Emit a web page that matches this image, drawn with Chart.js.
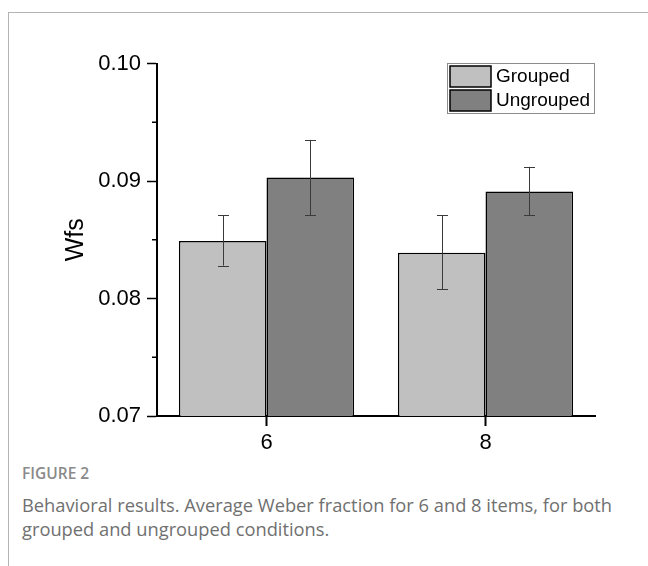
<!DOCTYPE html>
<html>
<head>
<meta charset="utf-8">
<script src="https://cdn.jsdelivr.net/npm/chart.js@4.4.1/dist/chart.umd.min.js"></script>
<style>
  html, body { margin: 0; padding: 0; background: #fff; }
  body { width: 648px; height: 566px; position: relative; overflow: hidden; }
  #frame { position: absolute; left: 8px; top: 12px; right: 0; bottom: 0;
           border-top: 1px solid #b4b4b4; border-left: 1px solid #b4b4b4; }
  #wrap { position: absolute; left: 0; top: 0; width: 648px; height: 460px; }
  #fig { position: absolute; left: 22px; top: 462px; font: 600 15.5px "Open Sans", sans-serif;
         color: #8a8a8a; }
  #cap { position: absolute; left: 22px; top: 493px; width: 626px; font: 18.3px "Open Sans", sans-serif;
         color: #707070; line-height: 24px; }
</style>
</head>
<body>
<div id="frame"></div>
<div id="wrap"><canvas id="barChart" width="648" height="460"></canvas></div>
<div id="fig">FIGURE 2</div>
<div id="cap">Behavioral results. Average Weber fraction for 6 and 8 items, for both<br>grouped and ungrouped conditions.</div>
<script>
// data
var categories = ["6", "8"];
var groupedMean = [0.0849, 0.0839];
var groupedLow = [0.0828, 0.0808];
var groupedHigh = [0.0871, 0.0871];
var ungroupedMean = [0.0903, 0.0891];
var ungroupedLow = [0.0871, 0.0871];
var ungroupedHigh = [0.0935, 0.0912];
var yTicks = [0.07, 0.08, 0.09, 0.10];

var FONT = '"Liberation Sans", Arial, sans-serif';

function isMajor(v) {
    return Math.round(v * 1000) % 10 === 0;
}

// error bars + minor ticks + boxed legend
var extras = {
    id: 'extras',
    afterDatasetsDraw: function(chart) {
        var c = chart.ctx;
        var y = chart.scales.y;
        c.save();
        c.strokeStyle = '#3a3a3a';
        c.lineWidth = 1;
        chart.data.datasets.forEach(function(ds, i) {
            var meta = chart.getDatasetMeta(i);
            meta.data.forEach(function(bar, j) {
                var top = y.getPixelForValue(ds.errHigh[j]);
                var bot = y.getPixelForValue(ds.errLow[j]);
                var x = Math.round(bar.x) + 0.5;
                c.beginPath();
                c.moveTo(x, top); c.lineTo(x, bot);
                c.moveTo(x - 5.5, Math.round(top) + 0.5); c.lineTo(x + 5.5, Math.round(top) + 0.5);
                c.moveTo(x - 5.5, Math.round(bot) + 0.5); c.lineTo(x + 5.5, Math.round(bot) + 0.5);
                c.stroke();
            });
        });
        c.restore();
    },
    afterDraw: function(chart) {
        var c = chart.ctx;
        var y = chart.scales.y;
        var left = chart.chartArea.left;
        c.save();
        // minor ticks
        c.strokeStyle = '#000';
        c.lineWidth = 1.5;
        y.ticks.forEach(function(t) {
            if (isMajor(t.value)) return;
            var py = y.getPixelForValue(t.value);
            c.beginPath();
            c.moveTo(left - 5, py); c.lineTo(left, py);
            c.stroke();
        });
        // legend
        var lx = 447, ly = 63, lw = 147, rowH = 24;
        c.fillStyle = '#fff';
        c.fillRect(lx, ly, lw, rowH * 2 + 2);
        c.strokeStyle = '#8c8c8c';
        c.lineWidth = 1;
        c.strokeRect(lx + 0.5, ly + 0.5, lw, rowH * 2 + 2);
        c.font = '19px ' + FONT;
        c.textBaseline = 'middle';
        chart.data.datasets.forEach(function(ds, i) {
            var ry = ly + 2 + i * rowH;
            c.fillStyle = ds.backgroundColor;
            c.fillRect(lx + 3, ry + 1, 41, rowH - 3);
            c.strokeStyle = '#000';
            c.lineWidth = 1.5;
            c.strokeRect(lx + 3, ry + 1, 41, rowH - 3);
            c.fillStyle = '#000';
            c.fillText(ds.label, lx + 49, ry + rowH / 2);
        });
        c.restore();
    }
};

var ctx = document.getElementById('barChart').getContext('2d');
var barChart = new Chart(ctx, {
    type: 'bar',
    data: {
        labels: categories,
        datasets: [{
            label: 'Grouped',
            data: groupedMean,
            errLow: groupedLow,
            errHigh: groupedHigh,
            backgroundColor: '#c0c0c0',
            borderColor: '#000',
            borderWidth: 1.5
        }, {
            label: 'Ungrouped',
            data: ungroupedMean,
            errLow: ungroupedLow,
            errHigh: ungroupedHigh,
            backgroundColor: '#808080',
            borderColor: '#000',
            borderWidth: 1.5
        }]
    },
    options: {
        responsive: false,
        animation: false,
        devicePixelRatio: 1,
        categoryPercentage: 0.8,
        barPercentage: 1.0,
        layout: { padding: { left: 61, right: 53, top: 63.5, bottom: 10 } },
        plugins: { legend: { display: false }, tooltip: { enabled: false } },
        scales: {
            x: {
                offset: true,
                afterFit: function(s) { s.height = 34; },
                grid: { offset: false, drawOnChartArea: false, tickLength: 10, tickColor: '#000', tickWidth: 2 },
                border: { color: '#000', width: 2 },
                ticks: { color: '#000', font: { family: FONT, size: 22 }, padding: 4 }
            },
            y: {
                min: yTicks[0],
                max: yTicks[yTicks.length - 1],
                afterFit: function(s) { s.width = 96; },
                grid: {
                    drawOnChartArea: false,
                    tickLength: 10,
                    tickWidth: 1.5,
                    tickColor: function(c) { return c.tick && isMajor(c.tick.value) ? '#000' : 'rgba(0,0,0,0)'; }
                },
                border: { color: '#000', width: 2 },
                ticks: {
                    stepSize: 0.005,
                    autoSkip: false,
                    color: '#000',
                    padding: 6,
                    font: { family: FONT, size: 22 },
                    callback: function(v) { return isMajor(v) ? v.toFixed(2) : ''; }
                },
                title: { display: true, text: 'Wfs', color: '#000', font: { family: FONT, size: 25 }, padding: { top: 0, bottom: 0 } }
            }
        }
    },
    plugins: [extras]
});
</script>
</body>
</html>
